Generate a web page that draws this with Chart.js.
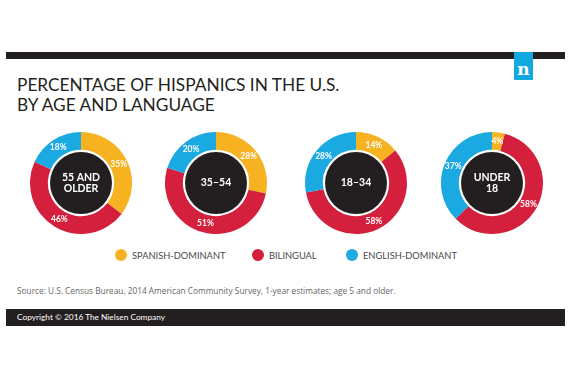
<!DOCTYPE html>
<html>
<head>
<meta charset="utf-8">
<script src="https://cdn.jsdelivr.net/npm/chart.js@4/dist/chart.umd.min.js"></script>
<style>
  html, body { margin:0; padding:0; background:#fff; }
  #page { position:relative; width:570px; height:380px; overflow:hidden; background:#fff; font-family: Lato, "Open Sans", sans-serif; }
  .abs { position:absolute; }
  #topbar { left:6px; top:52px; width:559px; height:7px; background:#231f20; }
  #logo { left:514px; top:52px; width:19px; height:28px; background:#12a8e0; color:#fff; font-family:"DejaVu Serif", "Liberation Serif", serif; font-weight:bold; font-size:17px; line-height:17px; text-align:center; }
  #logo span { position:absolute; left:0; right:0; top:9px; }
  #title { left:17px; top:75px; font-size:17.3px; line-height:20px; color:#231f20; white-space:nowrap; }
  .donut { position:absolute; width:110px; height:110px; }
  #legend { left:0; top:247px; width:570px; height:16px; }
  .lg { position:absolute; top:0; height:16px; display:flex; align-items:center; font-size:9.3px; color:#4a4a4a; white-space:nowrap; }
  .dot { width:12px; height:12px; border-radius:50%; margin-right:5px; }
  #source { left:17px; top:285px; font-family:"Open Sans", sans-serif; font-size:8.3px; color:#666; white-space:nowrap; }
  #footbar { left:6px; top:309px; width:559px; height:17px; background:#231f20; }
  #copy { left:17px; top:310px; font-size:8.3px; line-height:15px; color:#fff; white-space:nowrap; }
</style>
</head>
<body>
<div id="page">
  <div id="topbar" class="abs"></div>
  <div id="logo" class="abs"><span>n</span></div>
  <div id="title" class="abs">PERCENTAGE OF HISPANICS IN THE U.S.<br>BY AGE AND LANGUAGE</div>
  <div id="charts"></div>
  <div id="legend" class="abs"></div>
  <div id="source" class="abs">Source: U.S. Census Bureau, 2014 American Community Survey, 1-year estimates; age 5 and older.</div>
  <div id="footbar" class="abs"></div>
  <div id="copy" class="abs">Copyright © 2016 The Nielsen Company</div>
</div>
<script>
// ---- data ----
const categories = ["SPANISH-DOMINANT", "BILINGUAL", "ENGLISH-DOMINANT"];
const ageGroups = [["55 AND", "OLDER"], ["35–54"], ["18–34"], ["UNDER", "18"]];
const spanishDominant = [35, 28, 14, 4];
const bilingual = [46, 51, 58, 58];
const englishDominant = [18, 20, 28, 37];

// ---- styles / layout ----
const colors = ["#f7b221", "#d41f3d", "#1ba9e1"];
const centersX = [81, 216, 356, 492];
const centerY = 183;
const size = 110;

const chartsDiv = document.getElementById('charts');

const donutPlugin = {
  id: 'donutDecor',
  afterDatasetsDraw(chart) {
    const ctx = chart.ctx;
    const meta = chart.getDatasetMeta(0);
    const arc0 = meta.data[0];
    const cx = arc0.x, cy = arc0.y;
    // inner black disc
    ctx.save();
    ctx.beginPath();
    ctx.arc(cx, cy, 31, 0, Math.PI * 2);
    ctx.fillStyle = "#231f20";
    ctx.fill();
    // center label
    const lines = chart.options.plugins.donutDecor.lines;
    ctx.fillStyle = "#fff";
    ctx.font = "bold 10.5px Lato, sans-serif";
    ctx.textAlign = "center";
    ctx.textBaseline = "middle";
    const lh = 11;
    lines.forEach((t, i) => {
      ctx.fillText(t, cx, cy + (i - (lines.length - 1) / 2) * lh);
    });
    // percentage labels
    ctx.font = "bold 8.5px Lato, sans-serif";
    const vals = chart.data.datasets[0].data;
    meta.data.forEach((arc, i) => {
      const p = arc.tooltipPosition();
      ctx.fillText(vals[i] + "%", p.x, p.y);
    });
    ctx.restore();
  }
};

ageGroups.forEach((lines, k) => {
  const wrap = document.createElement('div');
  wrap.className = 'donut';
  wrap.style.left = (centersX[k] - size / 2) + 'px';
  wrap.style.top = (centerY - size / 2) + 'px';
  const cv = document.createElement('canvas');
  cv.width = size; cv.height = size;
  wrap.appendChild(cv);
  chartsDiv.appendChild(wrap);
  new Chart(cv, {
    type: 'doughnut',
    data: {
      labels: categories,
      datasets: [{
        data: [spanishDominant[k], bilingual[k], englishDominant[k]],
        backgroundColor: colors,
        borderWidth: 0
      }]
    },
    options: {
      responsive: false,
      animation: false,
      cutout: '65%',
      layout: { padding: 4 },
      plugins: {
        legend: { display: false },
        tooltip: { enabled: false },
        donutDecor: { lines: lines }
      }
    },
    plugins: [donutPlugin]
  });
});

// legend
const legendX = [115, 252, 346];
const legend = document.getElementById('legend');
categories.forEach((c, i) => {
  const d = document.createElement('div');
  d.className = 'lg';
  d.style.left = legendX[i] + 'px';
  d.innerHTML = '<span class="dot" style="background:' + colors[i] + '"></span>' + c;
  legend.appendChild(d);
});
</script>
</body>
</html>
